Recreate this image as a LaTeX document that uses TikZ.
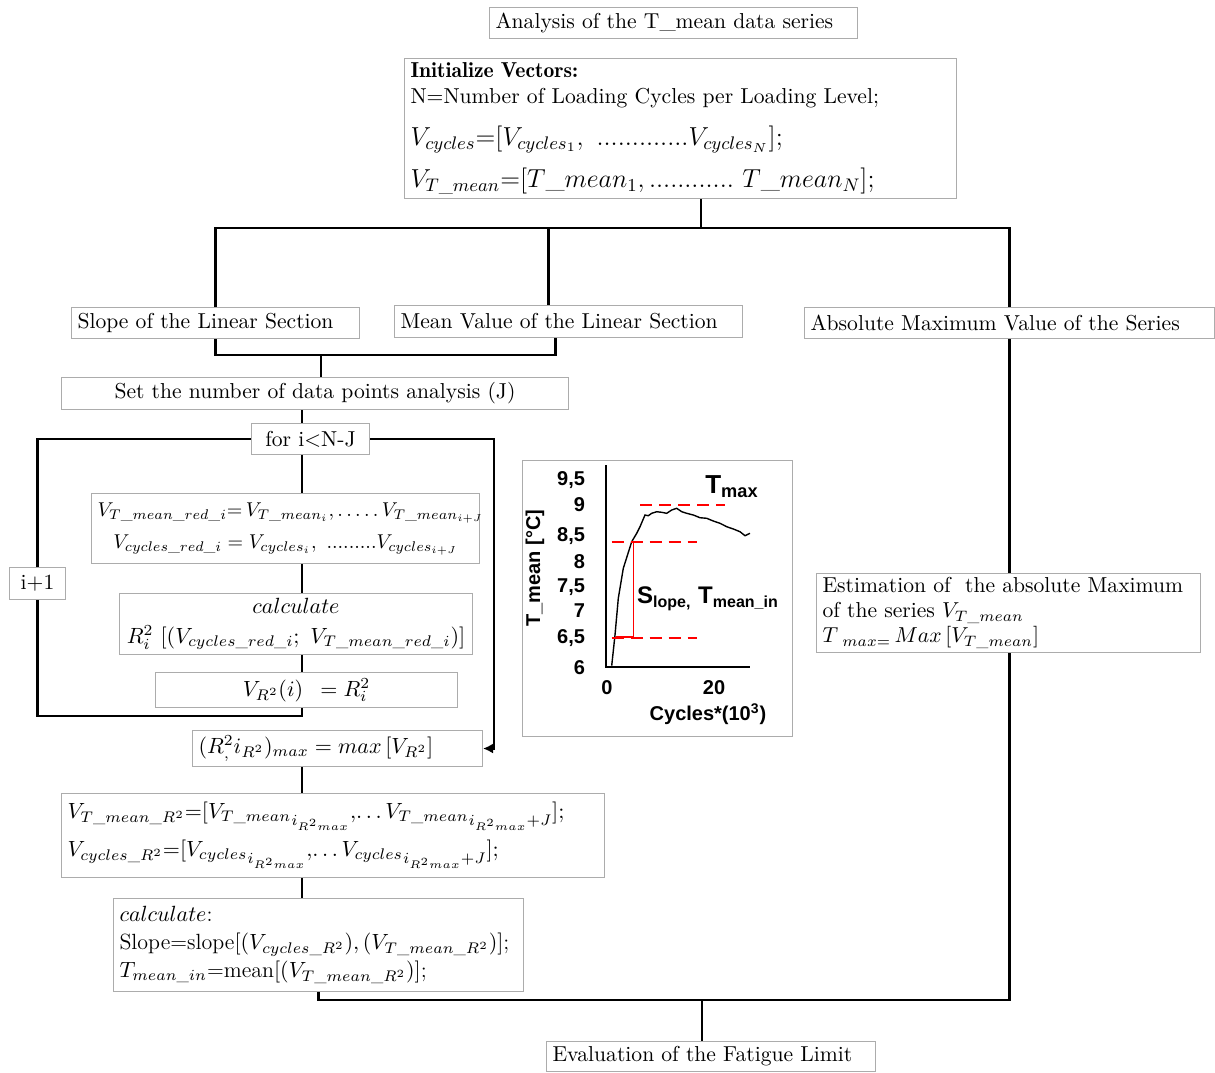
\RequirePackage{fix-cm}
\documentclass[tikz,border=0pt]{standalone}
\usepackage{amsmath}
\usepackage{fontspec}
\newfontfamily\plotfont{Liberation Sans}
\usetikzlibrary{positioning,calc,arrows.meta}
\tikzset{box/.style={draw=gray!65, line width=0.5pt, inner xsep=3pt, inner ysep=2pt, anchor=north west, align=flush left, font=\fontsize{10.8}{13}\selectfont}}
\tikzset{cbox/.style={box, align=flush center}}
\tikzset{line/.style={draw, line width=1.2pt}}
\tikzset{arr/.style={line, -{Latex[length=5pt,width=5pt]}}}
\tikzset{redash/.style={draw=red, line width=1pt, dash pattern=on 6pt off 3.5pt}}
\tikzset{tick/.style={font=\plotfont\bfseries\fontsize{10}{12}\selectfont}}
\newcommand\dotrow{\text{.........}}

\begin{document}
\begin{tikzpicture}[x=0.5pt, y=-0.5pt]
\useasboundingbox (0,0) rectangle (1215,1072);

% header and vectors
\node[box, text width=178pt, minimum height=15.5pt] (title) at (489,7) {Analysis of the T\_mean data series};
\node[box, text width=270pt, minimum height=70pt] (init) at (404,58) {%
  {\fontseries{b}\selectfont Initialize Vectors:}\\
  N=Number of Loading Cycles per Loading Level;\\[8pt]
  {\fontsize{13}{15}\selectfont $V_{cycles}{=}[V_{cycles_1},\ \text{.............}V_{cycles_N}];$}\\[6.5pt]
  {\fontsize{13}{15}\selectfont $V_{T\_mean}{=}[T\_mean_1,\text{............}\ T\_mean_N];$}};

% the three branches
\node[box, text width=138pt, minimum height=15.5pt] (slope) at (71,307) {Slope of the Linear Section};
\node[box, text width=168pt, minimum height=16pt] (mean) at (394,305) {Mean Value of the Linear Section};
\node[box, text width=199pt, minimum height=15.5pt] (absmax) at (804,307) {Absolute Maximum Value of the Series};

% sliding window
\node[cbox, text width=247.5pt, minimum height=16pt] (setj) at (61,377) {Set the number of data points analysis (J)};
\node[cbox, text width=53pt, minimum height=15.5pt] (fori) at (251,423) {for i\textless N-J};
\node[cbox, text width=188pt, minimum height=35pt, font=\fontsize{10}{16}\selectfont] (vred) at (91,493) {%
  $V_{T\_mean\_red\_i}{=}\,V_{T\_mean_i},\dots.\,.\,V_{T\_mean_{i+J}}$\\
  $V_{cycles\_red\_i} = V_{cycles_i},\ \dotrow V_{cycles_{i+J}}$};
\node[cbox, text width=170.5pt, minimum height=30.5pt, font=\fontsize{11}{15}\selectfont] (rcalc) at (119,593) {%
  $calculate$\\
  $R_i^2\ [(V_{cycles\_red\_i};\ V_{T\_mean\_red\_i})]$};
\node[cbox, text width=145pt, minimum height=17.5pt, font=\fontsize{11}{13}\selectfont] (vr) at (155,672) {$V_{R^2}(i)\enspace = R_i^2$};
\node[cbox, text width=22pt, minimum height=16pt] (incr) at (9,567) {i+1};

% best window
\node[box, text width=139pt, minimum height=18pt, font=\fontsize{11}{13}\selectfont] (rmax) at (192,730) {$(R^2_{,}i_{R^2})_{max} = max\,[V_{R^2}]$};
\node[box, text width=265.5pt, minimum height=42pt, font=\fontsize{11}{19}\selectfont] (vsel) at (61,793) {%
  $V_{T\_mean\_R^2}{=}[{V_{T\_mean}}_{i_{R^2max}},\!\ldots {V_{T\_mean}}_{i_{R^2max}+J}];$\\
  $V_{cycles\_R^2}{=}[{V_{cycles}}_{i_{R^2max}},\!\ldots {V_{cycles}}_{i_{R^2max}+J}];$};
\node[box, text width=199pt, minimum height=46.5pt, font=\fontsize{11}{14}\selectfont] (lfit) at (113,898) {%
  $calculate$:\\
  Slope=slope$[(V_{cycles\_R^2}),(V_{T\_mean\_R^2})]$;\\
  $T_{mean\_in}$=mean$[(V_{T\_mean\_R^2})]$;};

% maximum branch and end
\node[box, text width=186pt, minimum height=39.5pt, font=\fontsize{10.8}{12.5}\selectfont] (estim) at (816,573) {%
  Estimation of~~the absolute Maximum\\
  of the series $V_{T\_mean}$\\
  $T_{\ max{=}}\,Max\,[V_{T\_mean}]$};
\node[box, text width=158.5pt, minimum height=15pt] (fatigue) at (546,1041) {Evaluation of the Fatigue Limit};

% connectors
\coordinate (trunk) at (701,228);
\coordinate (merge) at (321,355);
\coordinate (spine) at (302,0);
\coordinate (sink) at (702,1000);
\draw[line] (init.south -| trunk) -- (trunk);
\draw[line] (slope.north) |- (trunk -| absmax.north) -- (absmax.north);
\draw[line] ([xshift=-10pt]mean.north) -- ([xshift=-10pt]mean.north |- trunk);
\draw[line] (slope.south) |- ([xshift=-6.5pt]mean.south |- merge) -- ([xshift=-6.5pt]mean.south);
\draw[line] (merge) -- (merge |- setj.north);
\draw[line] (spine |- setj.south) -- (spine |- fori.north);
\draw[line] (spine |- fori.south) -- (spine |- vred.north);
\draw[line] (spine |- vred.south) -- (spine |- rcalc.north);
\draw[line] (spine |- rcalc.south) -- (spine |- vr.north);
\draw[line] (spine |- vr.south) -- ++(0,8) -| (incr.south);
\draw[line] (incr.north) |- (fori.west);
\draw[arr] (fori.east) -- ++(124,0) |- (rmax.east);
\draw[line] (spine |- rmax.south) -- (spine |- vsel.north);
\draw[line] (spine |- vsel.south) -- (spine |- lfit.north);
\draw[line] (absmax.south) -- (absmax.south |- estim.north);
\draw[line] (absmax.south |- estim.south) -- (absmax.south |- sink) -| (lfit.south);
\draw[line] (sink) -- (sink |- fatigue.north);

% small chart of the series
\node[draw=gray!65, line width=0.5pt, anchor=north west, minimum width=135pt, minimum height=138pt] (chart) at (522,460) {};
\draw[line width=0.7pt] (606,465) -- (606,667) -- (750,667);
\foreach \lab/\yy in {{9,5}/480, 9/505, {8,5}/536, 8/562, {7,5}/587, 7/611, {6,5}/638, 6/668}
  \node[tick, anchor=east] at (592,\yy) {\lab};
\node[tick] at (607,688) {0};
\node[tick] at (714,688) {20};
\node[tick] at (708,714) {Cycles*(10\textsuperscript{3})};
\node[tick, rotate=90] at (535,568) {T\_mean [°C]};
\draw[line width=0.7pt] plot coordinates {(611.7,665.7) (615,635) (618.3,598.3) (623.3,568.3) (631.7,541.7) (636.7,533.3) (640,526.7) (645,515) (648.3,515.7) (651.7,513.3) (656.7,511.7) (661.7,512.3) (666.7,513.3) (671.7,510) (676.7,508.3) (681.7,511.7) (686.7,513.3) (693.3,515) (700,517.7) (706.7,518.3) (713.3,521) (720,523.3) (726.7,526.7) (733.3,529) (740,531.7) (745,535.7) (750,533.3)};
\draw[redash] (640,505) -- (725,505);
\draw[redash] (611.7,542.3) -- (696.7,542.3);
\draw[redash] (611.7,638.3) -- (696.7,638.3);
\draw[red, line width=0.8pt] (633.3,542.3) -- (633.3,638.3);
\draw[red, line width=0.8pt] (616,636.7) -- (633.3,636.7);
\node[font=\plotfont\bfseries\fontsize{13}{15}\selectfont] (tmax) at (732,487) {T\textsubscript{max}};
\node[font=\plotfont\bfseries\fontsize{12}{14}\selectfont] (slab) at (708,599) {S\textsubscript{lope,} T\textsubscript{mean\_in}};
\end{tikzpicture}
\end{document}
